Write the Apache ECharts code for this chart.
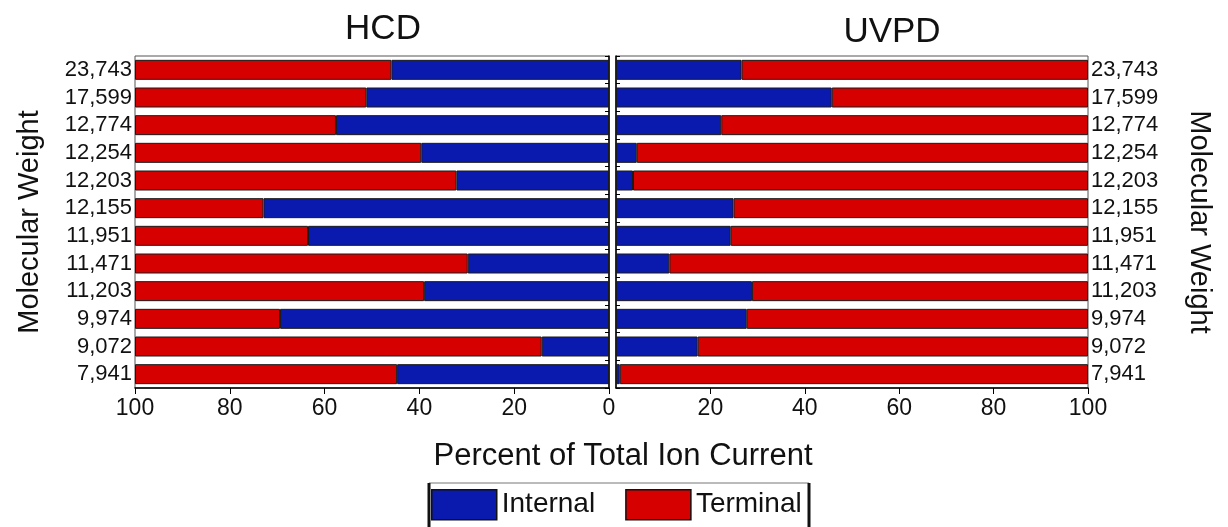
<!DOCTYPE html>
<html>
<head>
<meta charset="utf-8">
<script src="https://cdn.jsdelivr.net/npm/echarts@6/dist/echarts.min.js"></script>
<style>
  html, body { margin: 0; padding: 0; background: #fff; }
  #chart { width: 1228px; height: 527px; }
</style>
</head>
<body>
<div id="chart"></div>
<script>
// Protein molecular weights, listed top to bottom
const weights = ['23,743', '17,599', '12,774', '12,254', '12,203', '12,155',
                 '11,951', '11,471', '11,203', '9,974', '9,072', '7,941'];

// HCD: share of total ion current (%)
const hcdInternal = [45.9, 51.2, 57.6, 39.6, 32.2, 72.9, 63.5, 29.8, 39.0, 69.4, 14.2, 44.7];
const hcdTerminal = [54.1, 48.8, 42.4, 60.4, 67.8, 27.1, 36.5, 70.2, 61.0, 30.6, 85.8, 55.3];

// UVPD: share of total ion current (%)
const uvpdInternal = [26.6, 45.7, 22.3, 4.4, 3.6, 24.9, 24.3, 11.3, 28.8, 27.7, 17.3, 0.8];
const uvpdTerminal = [73.4, 54.3, 77.7, 95.6, 96.4, 75.1, 75.7, 88.7, 71.2, 72.3, 82.7, 99.2];

const percentTicks = [0, 20, 40, 60, 80, 100];

const BLUE = '#0a1aae';
const RED = '#d60000';
const FONT = '"Liberation Sans", Arial, sans-serif';

const chart = echarts.init(document.getElementById('chart'), null, { renderer: 'canvas' });

const barStyle = color => ({ color: color, borderColor: '#1a1a1a', borderWidth: 1 });

const xAxisCommon = {
  type: 'value',
  min: 0,
  max: 100,
  interval: 20,
  splitLine: { show: false },
  axisLine: { show: true, lineStyle: { color: '#000', width: 1.5 } },
  axisTick: { show: true, length: 6, lineStyle: { color: '#000' } },
  axisLabel: {
    color: '#111', fontFamily: FONT, fontSize: 23, margin: 9,
    formatter: v => percentTicks.includes(v) ? String(v) : ''
  }
};

const yAxisCommon = {
  type: 'category',
  data: weights,
  inverse: true,
  axisLine: { show: true, lineStyle: { color: '#000', width: 1.5 } },
  axisTick: { show: true, length: 4, interval: 0, alignWithLabel: false, lineStyle: { color: '#000' } },
  axisLabel: { color: '#111', fontFamily: FONT, fontSize: 22, margin: 3, interval: 0,
    hideOverlap: false },
  nameLocation: 'middle',
  nameTextStyle: { color: '#111', fontFamily: FONT, fontSize: 29 }
};

// Legend frame: thin top edge, heavy side edges, open at the bottom
const frameTop = 483, frameLeft = 429, frameRight = 809;

chart.setOption({
  animation: false,
  backgroundColor: '#fff',
  textStyle: { fontFamily: FONT },
  title: [
    { text: 'HCD', left: 378, top: 7, textAlign: 'center',
      textStyle: { fontFamily: FONT, fontSize: 35, fontWeight: 'normal', color: '#111' } },
    { text: 'UVPD', left: 887, top: 10, textAlign: 'center',
      textStyle: { fontFamily: FONT, fontSize: 35, fontWeight: 'normal', color: '#111' } },
    { text: 'Percent of Total Ion Current', left: 618, top: 436, textAlign: 'center',
      textStyle: { fontFamily: FONT, fontSize: 31, fontWeight: 'normal', color: '#111' } }
  ],
  legend: {
    data: ['Internal', 'Terminal'],
    icon: 'rect',
    left: 427,
    top: 485,
    itemWidth: 65,
    itemHeight: 30,
    itemGap: 30,
    padding: 4,
    textStyle: { fontFamily: FONT, fontSize: 28, color: '#111' },
    itemStyle: { borderColor: '#111', borderWidth: 1.5 }
  },
  graphic: [
    { type: 'line', shape: { x1: frameLeft, y1: frameTop, x2: frameRight, y2: frameTop },
      style: { stroke: '#777', lineWidth: 1 } },
    { type: 'line', shape: { x1: frameLeft, y1: frameTop, x2: frameLeft, y2: 527 },
      style: { stroke: '#111', lineWidth: 3 } },
    { type: 'line', shape: { x1: frameRight, y1: frameTop, x2: frameRight, y2: 527 },
      style: { stroke: '#111', lineWidth: 3 } }
  ],
  grid: [
    { left: 135, right: 619, top: 56, bottom: 139, show: true,
      borderColor: '#555', borderWidth: 1, backgroundColor: '#fff' },
    { left: 616, right: 140, top: 56, bottom: 139, show: true,
      borderColor: '#555', borderWidth: 1, backgroundColor: '#fff' }
  ],
  xAxis: [
    Object.assign({}, xAxisCommon, { gridIndex: 0, inverse: true }),
    Object.assign({}, xAxisCommon, { gridIndex: 1,
      axisLabel: Object.assign({}, xAxisCommon.axisLabel, { showMinLabel: false }) })
  ],
  yAxis: [
    Object.assign({}, yAxisCommon, { gridIndex: 0, position: 'left',
      name: 'Molecular Weight', nameRotate: 90, nameGap: 91 }),
    Object.assign({}, yAxisCommon, { gridIndex: 1, position: 'right',
      name: 'Molecular Weight', nameRotate: -90, nameGap: 96 })
  ],
  series: [
    { name: 'Internal', type: 'bar', stack: 'hcd', xAxisIndex: 0, yAxisIndex: 0,
      data: hcdInternal, barWidth: 20, itemStyle: barStyle(BLUE) },
    { name: 'Terminal', type: 'bar', stack: 'hcd', xAxisIndex: 0, yAxisIndex: 0,
      data: hcdTerminal, barWidth: 20, itemStyle: barStyle(RED) },
    { name: 'Internal', type: 'bar', stack: 'uvpd', xAxisIndex: 1, yAxisIndex: 1,
      data: uvpdInternal, barWidth: 20, itemStyle: barStyle(BLUE) },
    { name: 'Terminal', type: 'bar', stack: 'uvpd', xAxisIndex: 1, yAxisIndex: 1,
      data: uvpdTerminal, barWidth: 20, itemStyle: barStyle(RED) }
  ]
});
</script>
</body>
</html>
